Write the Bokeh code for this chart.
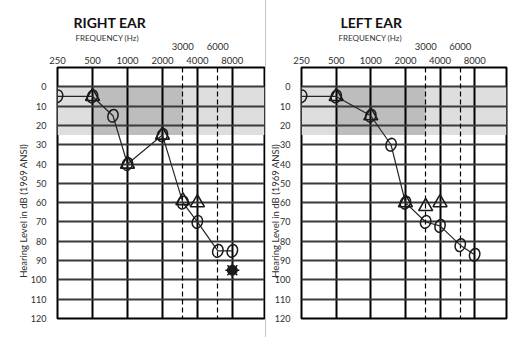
from bokeh.plotting import figure
from bokeh.models import (Range1d, FixedTicker, LogAxis, Grid, BoxAnnotation, Title,
                          NumeralTickFormatter)
from bokeh.layouts import row
from bokeh.embed import file_html
from bokeh.resources import INLINE

# ---------------- data ----------------
FREQ_TICKS = [250, 500, 1000, 2000, 4000, 8000]
FREQ_LABELS = ["250", "500", "1000", "2000", "4000", "8000"]
MID_TICKS = [3000, 6000]
MID_LABELS = ["3000", "6000"]
SOLID_FREQ_LINES = [500, 1000, 2000, 4000, 8000]
DB_TICKS = [0, 10, 20, 30, 40, 50, 60, 70, 80, 90, 100, 110, 120]
DB_LINES = [0, 10, 20, 30, 40, 50, 60, 70, 80, 90, 100, 110]

NORMAL_BAND_DB = [0, 25]
SPEECH_BAND_HZ = [500, 3000]

# Right ear
R_AIR_HZ = [250, 500, 750, 1000, 2000, 3000, 4000, 6000, 8000]
R_AIR_DB = [5, 5, 15, 40, 25, 60, 70, 85, 85]
R_BONE_HZ = [500, 1000, 2000, 3000, 4000]
R_BONE_DB = [5, 40, 25, 59, 60]
R_NR_HZ = [8000]
R_NR_DB = [95]

# Left ear
L_AIR_HZ = [250, 500, 1000, 1500, 2000, 3000, 4000, 6000, 8000]
L_AIR_DB = [5, 5, 15, 30, 60, 70, 72, 82, 87]
L_BONE_HZ = [500, 1000, 2000, 3000, 4000]
L_BONE_DB = [5, 15, 60, 62, 60]

FONT = "Lato"
TXT = "#2f2f2f"
Y_LABEL = "Hearing Level in dB (1969 ANSI)"
PAD = "\u2003" * 5


def make_ear(title, air_hz, air_db, bone_hz, bone_db, nr_hz, nr_db, width,
             top, bottom, left, right, title_off, freq_off, ylab_standoff):
    p = figure(width=width, height=337, x_axis_type="log", x_axis_location="above",
               x_range=Range1d(250 * 0.999, 250 * 2 ** 5.92), y_range=Range1d(120, -10),
               output_backend="svg", toolbar_location=None,
               min_border_top=top, min_border_bottom=bottom,
               min_border_left=left, min_border_right=right)
    p.title.text = title
    p.title.align = "left"
    p.title.offset = title_off
    p.title.text_font = FONT
    p.title.text_font_size = "14px"
    p.title.text_font_style = "bold"
    p.title.text_color = "#111111"
    p.title.standoff = 7

    p.background_fill_color = "white"
    p.border_fill_color = "white"
    p.outline_line_color = "black"
    p.outline_line_width = 2
    p.outline_line_alpha = 1

    # shaded bands
    p.add_layout(BoxAnnotation(top=NORMAL_BAND_DB[0], bottom=NORMAL_BAND_DB[1],
                               fill_color="#dedede", fill_alpha=1, line_color=None,
                               level="image"))
    p.add_layout(BoxAnnotation(left=SPEECH_BAND_HZ[0], right=SPEECH_BAND_HZ[1],
                               top=NORMAL_BAND_DB[0], bottom=NORMAL_BAND_DB[1],
                               fill_color="#bdbdbd", fill_alpha=1, line_color=None,
                               level="image"))

    # axes
    ax = p.xaxis[0]
    ax.ticker = FixedTicker(ticks=FREQ_TICKS)
    ax.formatter = NumeralTickFormatter(format="0")
    ax.major_label_overrides = {t: s for t, s in zip(FREQ_TICKS, FREQ_LABELS)}
    ax2 = LogAxis(ticker=FixedTicker(ticks=MID_TICKS),
                  formatter=NumeralTickFormatter(format="0"))
    ax2.major_label_overrides = {t: s for t, s in zip(MID_TICKS, MID_LABELS)}
    for a in (ax, ax2):
        a.major_tick_line_color = None
        a.minor_tick_line_color = None
        a.axis_line_color = None
        a.major_label_standoff = -2
        a.major_label_text_font = FONT
        a.major_label_text_font_size = "9.5px"
        a.major_label_text_color = TXT
    p.add_layout(ax2, "above")
    p.add_layout(Title(text="FREQUENCY (Hz)", align="left", offset=freq_off,
                       text_font=FONT, text_font_size="8px", text_font_style="normal",
                       text_color=TXT, standoff=-7), "above")

    ya = p.yaxis[0]
    ya.ticker = FixedTicker(ticks=DB_TICKS)
    ya.major_tick_line_color = None
    ya.minor_tick_line_color = None
    ya.axis_line_color = None
    ya.major_label_standoff = 5
    ya.major_label_text_font = FONT
    ya.major_label_text_font_size = "9px"
    ya.major_label_text_color = TXT
    ya.axis_label = Y_LABEL + PAD
    ya.axis_label_text_font = FONT
    ya.axis_label_text_font_size = "9.5px"
    ya.axis_label_text_font_style = "normal"
    ya.axis_label_text_color = TXT
    ya.axis_label_standoff = ylab_standoff

    # grids
    p.xgrid.ticker = FixedTicker(ticks=SOLID_FREQ_LINES)
    p.xgrid.grid_line_color = "black"
    p.xgrid.grid_line_width = 2
    p.xgrid.grid_line_alpha = 1
    p.ygrid.ticker = FixedTicker(ticks=DB_LINES)
    p.ygrid.grid_line_color = "#3a3a3a"
    p.ygrid.grid_line_width = 2
    p.ygrid.grid_line_alpha = 1
    p.add_layout(Grid(dimension=0, ticker=FixedTicker(ticks=MID_TICKS),
                      grid_line_color="black", grid_line_width=1.2,
                      grid_line_dash="5 3"))

    # data
    p.line(air_hz, air_db, line_color="#262626", line_width=1.2)
    p.ellipse(x=air_hz, y=air_db, width=10, height=13, width_units="screen",
              height_units="screen", angle=-0.35, fill_color=None,
              line_color="#1a1a1a", line_width=1.5)
    p.scatter(bone_hz, bone_db, marker="triangle", size=14, fill_color=None,
              line_color="#1a1a1a", line_width=1.6)
    if nr_hz:
        p.scatter(nr_hz, nr_db, marker="circle", size=10, fill_color="#1a1a1a",
                  line_color="#1a1a1a")
        p.scatter(nr_hz, nr_db, marker="asterisk", size=14, line_color="#1a1a1a",
                  line_width=1.5)
    return p


p1 = make_ear("RIGHT EAR", R_AIR_HZ, R_AIR_DB, R_BONE_HZ, R_BONE_DB, R_NR_HZ, R_NR_DB,
              width=266, top=65, bottom=19, left=57, right=2,
              title_off=16, freq_off=18, ylab_standoff=-1)
p1.styles = {"border-right": "1px solid #c4c4c4"}

p2 = make_ear("LEFT EAR", L_AIR_HZ, L_AIR_DB, L_BONE_HZ, L_BONE_DB, [], [],
              width=259, top=67, bottom=17, left=32, right=19,
              title_off=39, freq_off=37, ylab_standoff=-9)

layout = row(p1, p2)
open("out.html", "w").write(file_html(layout, INLINE))
